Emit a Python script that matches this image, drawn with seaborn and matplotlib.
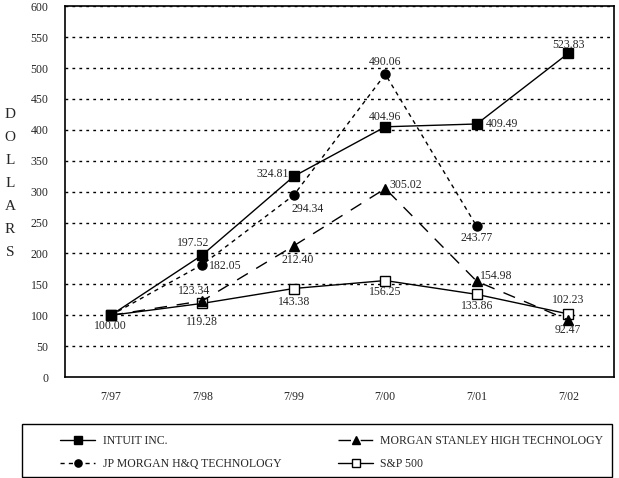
import seaborn as sns
import matplotlib.pyplot as plt
import pandas as pd
from matplotlib.patches import Rectangle

sns.set_style("white")
plt.rcParams["font.family"] = ["Liberation Serif", "DejaVu Serif"]

# Data
periods = ["7/97", "7/98", "7/99", "7/00", "7/01", "7/02"]
intuit = [100.00, 197.52, 324.81, 404.96, 409.49, 523.83]
jp_morgan = [100.00, 182.05, 294.34, 490.06, 243.77, None]
morgan_stanley = [100.00, 123.34, 212.40, 305.02, 154.98, 92.47]
sp500 = [100.00, 119.28, 143.38, 156.25, 133.86, 102.23]

names = ["INTUIT INC.", "JP MORGAN H&Q TECHNOLOGY",
         "MORGAN STANLEY HIGH TECHNOLOGY", "S&P 500"]
series = [intuit, jp_morgan, morgan_stanley, sp500]

rows = []
for name, vals in zip(names, series):
    for i, (p, v) in enumerate(zip(periods, vals)):
        if v is not None:
            rows.append({"series": name, "idx": i, "period": p, "value": v})
df = pd.DataFrame(rows)

fig = plt.figure(figsize=(6.19, 4.78), dpi=100)
ax = fig.add_axes([0.105, 0.211, 0.887, 0.776])

styles = {
    "INTUIT INC.": dict(ls="-", marker="s", mfc="black", ms=6.5),
    "JP MORGAN H&Q TECHNOLOGY": dict(ls=(0, (3, 3)), marker="o", mfc="black", ms=6.5),
    "MORGAN STANLEY HIGH TECHNOLOGY": dict(ls=(0, (9, 7)), marker="^", mfc="black", ms=6.5),
    "S&P 500": dict(ls="-", marker="s", mfc="white", ms=6.5),
}
# draw Intuit last so its marker sits on top at the common start point
for z, name in enumerate(reversed(names)):
    st = styles[name]
    sns.lineplot(data=df[df["series"] == name], x="idx", y="value", ax=ax,
                 color="black", lw=1.0, linestyle=st["ls"], marker=st["marker"],
                 markerfacecolor=st["mfc"], markeredgecolor="black", markeredgewidth=1,
                 markersize=st["ms"], label=name, zorder=3 + z)

# value labels (offsets in points)
offsets = {
    "INTUIT INC.": [(0, -8), (-6.5, 9), (-15, 2), (0, 7), (18, 0), (0, 6)],
    "JP MORGAN H&Q TECHNOLOGY": [None, (16.5, -1), (10, -10), (0, 9), (0, -8), None],
    "MORGAN STANLEY HIGH TECHNOLOGY": [None, (-6, 7), (3, -10), (15, 2.5), (14, 4), (0, -7.5)],
    "S&P 500": [None, (0, -13.5), (0, -10), (0, -8.5), (0, -8.5), (0, 10)],
}
for name, vals in zip(names, series):
    for i, v in enumerate(vals):
        off = offsets[name][i]
        if v is None or off is None:
            continue
        ax.annotate(f"{v:.2f}", (i, v), xytext=off, textcoords="offset points",
                    ha="center", va="center", fontsize=8.5, zorder=10)

ax.set_xlim(-0.5, 5.5)
ax.set_ylim(0, 600)
ax.set_yticks(range(0, 601, 50))
ax.set_xticks(range(len(periods)))
ax.set_xticklabels(periods)
ax.tick_params(axis="x", direction="in", length=6, width=1, pad=10, labelsize=8.5)
ax.tick_params(axis="y", length=0, pad=12, labelsize=8.5)
for y in range(50, 601, 50):
    ax.axhline(y, color="black", lw=1, ls=(0, (2, 3)), zorder=1)
for s in ax.spines.values():
    s.set_color("black")
    s.set_linewidth(1.2)
ax.set_xlabel("")
ax.set_ylabel("")
ax.get_legend().remove()

fig.text(0.016, 0.617, "D\nO\nL\nL\nA\nR\nS", ha="center", va="center",
         fontsize=11, linespacing=2.0)

# legend box
fig.patches.append(Rectangle((0.036, 0.002), 0.953, 0.111, transform=fig.transFigure,
                             fill=False, edgecolor="black", lw=1))
handles, labels = ax.get_legend_handles_labels()
hmap = dict(zip(labels, handles))
leg = fig.legend([hmap[n] for n in names], names,
                 loc="center left", bbox_to_anchor=(0.097, 0.053),
                 ncol=2, fontsize=8.5, frameon=False, handlelength=3.0,
                 handletextpad=0.6, borderpad=0, borderaxespad=0,
                 columnspacing=4.8, labelspacing=0.95, markerscale=0.8)

fig.savefig("out.png", dpi=100)
